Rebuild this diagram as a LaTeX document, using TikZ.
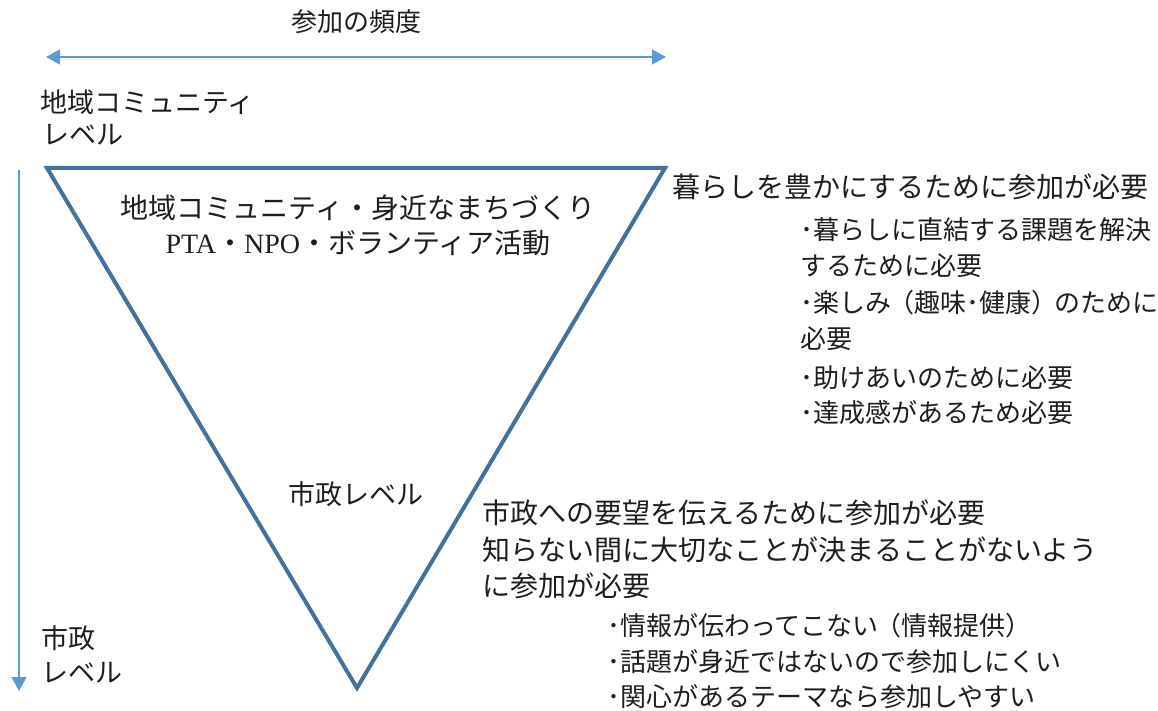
\documentclass[tikz,border=0pt]{standalone}
\usepackage{fontspec}
\newfontfamily\jp{Noto Sans CJK JP}
\newfontfamily\lat{Liberation Serif}
\usetikzlibrary{arrows.meta}
\definecolor{tri}{RGB}{65,113,156}
\definecolor{arr}{RGB}{91,155,213}
\definecolor{ink}{RGB}{30,30,30}
\tikzset{
  txt/.style={font=\jp\fontsize{26}{26}\selectfont, inner sep=0pt, text=ink, anchor=base west},
  mid/.style={txt, font=\jp\fontsize{27}{27}\selectfont},
  big/.style={txt, font=\jp\fontsize{28}{28}\selectfont},
  arrowline/.style={draw=arr, line width=1.6pt},
}
\newcommand{\lp}{\kern-3pt（}
\newcommand{\rp}{）\kern-3pt}
\begin{document}
\begin{tikzpicture}[x=1pt,y=-1pt]
\useasboundingbox (0,0) rectangle (1158,711);
% frequency arrow
\coordinate (hl) at (46,57);
\coordinate (hr) at (666,57);
\draw[arrowline, {Triangle[length=14pt,width=15pt]}-{Triangle[length=14pt,width=15pt]}] (hl) -- (hr);
\node[txt, anchor=base] (title) at (356,32) {参加の頻度};
% vertical arrow
\coordinate (vt) at (19,170);
\coordinate (vb) at (19,691);
\draw[arrowline, line width=1.3pt, -{Triangle[length=14pt,width=15pt]}] (vt) -- (vb);
\node[mid] (lvtop1) at (40,113) {地域コミュニティ};
\node[mid] (lvtop2) at (42,145) {レベル};
\node[mid] (lvbot1) at (41,648) {市政};
\node[mid] (lvbot2) at (41,682) {レベル};
% triangle
\coordinate (ta) at (47,168);
\coordinate (tb) at (665,168);
\coordinate (tc) at (357,688);
\draw[draw=tri, line width=4pt, line join=miter] (ta) -- (tb) -- (tc) -- cycle;
\node[big, anchor=base] (in1) at (358,219) {地域コミュニティ・身近なまちづくり};
\node[big, anchor=base] (in2) at (358,254) {{\lat PTA}・{\lat NPO}・ボランティア活動};
\node[mid] (shisei) at (288,504) {市政レベル};
% right block 1
\node[big] (r0) at (672,198) {暮らしを豊かにするために参加が必要};
\node[txt] (r1) at (800,240) {･暮らしに直結する課題を解決};
\node[txt] (r2) at (800,275) {するために必要};
\node[txt] (r3) at (800,312) {･楽しみ\lp 趣味･健康\rp のために};
\node[txt] (r4) at (800,348) {必要};
\node[txt] (r5) at (800,387) {･助けあいのために必要};
\node[txt] (r6) at (800,422) {･達成感があるため必要};
% right block 2
\node[big] (s0) at (482,523) {市政への要望を伝えるために参加が必要};
\node[big] (s1) at (482,560) {知らない間に大切なことが決まることがないよう};
\node[big] (s2) at (482,596) {に参加が必要};
\node[txt] (s3) at (607,635) {･情報が伝わってこない\lp 情報提供\rp};
\node[txt] (s4) at (607,671) {･話題が身近ではないので参加しにくい};
\node[txt] (s5) at (607,706) {･関心があるテーマなら参加しやすい};
\end{tikzpicture}
\end{document}
